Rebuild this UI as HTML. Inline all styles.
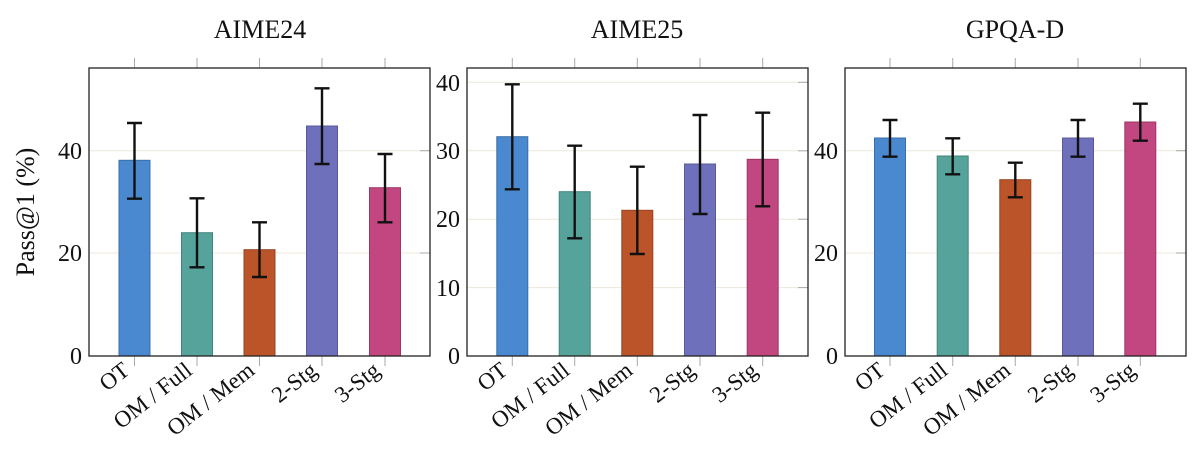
<!DOCTYPE html>
<html><head><meta charset="utf-8"><style>
html,body{margin:0;padding:0;background:#fff;}
svg{display:block;font-family:"Liberation Serif",serif;}
</style></head><body>
<svg width="1200" height="454" viewBox="0 0 1200 454" xmlns="http://www.w3.org/2000/svg">
<g font-size="26" text-anchor="middle" fill="#111">
<text x="260" y="38">AIME24</text>
<text x="637" y="38">AIME25</text>
<text x="1015" y="38">GPQA-D</text>
</g>
<text transform="translate(34,212) rotate(-90)" font-size="26" text-anchor="middle" fill="#111">Pass@1 (%)</text>

<g stroke="#ece8d8" stroke-width="1">
<line x1="89" x2="430" y1="253" y2="253"/><line x1="89" x2="430" y1="150.7" y2="150.7"/>
<line x1="467" x2="808" y1="287.6" y2="287.6"/><line x1="467" x2="808" y1="219.2" y2="219.2"/><line x1="467" x2="808" y1="150.8" y2="150.8"/><line x1="467" x2="808" y1="82.3" y2="82.3"/>
<line x1="845" x2="1186" y1="253" y2="253"/><line x1="845" x2="1186" y1="150.7" y2="150.7"/>
</g>
<g stroke="#aaa" stroke-width="1">
<line x1="134.5" x2="134.5" y1="58" y2="68"/><line x1="197" x2="197" y1="58" y2="68"/><line x1="259.5" x2="259.5" y1="58" y2="68"/><line x1="322" x2="322" y1="58" y2="68"/><line x1="385" x2="385" y1="58" y2="68"/>
<line x1="134.5" x2="134.5" y1="356" y2="366"/><line x1="197" x2="197" y1="356" y2="366"/><line x1="259.5" x2="259.5" y1="356" y2="366"/><line x1="322" x2="322" y1="356" y2="366"/><line x1="385" x2="385" y1="356" y2="366"/>
<line x1="512.3" x2="512.3" y1="58" y2="68"/><line x1="574.7" x2="574.7" y1="58" y2="68"/><line x1="637.3" x2="637.3" y1="58" y2="68"/><line x1="700" x2="700" y1="58" y2="68"/><line x1="762.7" x2="762.7" y1="58" y2="68"/>
<line x1="512.3" x2="512.3" y1="356" y2="366"/><line x1="574.7" x2="574.7" y1="356" y2="366"/><line x1="637.3" x2="637.3" y1="356" y2="366"/><line x1="700" x2="700" y1="356" y2="366"/><line x1="762.7" x2="762.7" y1="356" y2="366"/>
<line x1="890" x2="890" y1="58" y2="68"/><line x1="952.7" x2="952.7" y1="58" y2="68"/><line x1="1015.3" x2="1015.3" y1="58" y2="68"/><line x1="1078" x2="1078" y1="58" y2="68"/><line x1="1140.3" x2="1140.3" y1="58" y2="68"/>
<line x1="890" x2="890" y1="356" y2="366"/><line x1="952.7" x2="952.7" y1="356" y2="366"/><line x1="1015.3" x2="1015.3" y1="356" y2="366"/><line x1="1078" x2="1078" y1="356" y2="366"/><line x1="1140.3" x2="1140.3" y1="356" y2="366"/>
<line x1="420" x2="430" y1="253" y2="253"/><line x1="420" x2="430" y1="150.7" y2="150.7"/>
<line x1="798" x2="808" y1="287.6" y2="287.6"/><line x1="798" x2="808" y1="219.2" y2="219.2"/><line x1="798" x2="808" y1="150.8" y2="150.8"/><line x1="798" x2="808" y1="82.3" y2="82.3"/>
<line x1="1176" x2="1186" y1="253" y2="253"/><line x1="1176" x2="1186" y1="150.7" y2="150.7"/>
</g>

<g stroke-width="1">
<rect x="119" y="160.3" width="31" height="195.7" fill="#4a88cf" stroke="#3a6fa8"/>
<rect x="181.5" y="232.7" width="31" height="123.3" fill="#55a39a" stroke="#43837b"/>
<rect x="244" y="249.7" width="31" height="106.3" fill="#bb5529" stroke="#964421"/>
<rect x="306.5" y="126" width="31" height="230" fill="#6f70bb" stroke="#585a99"/>
<rect x="369.5" y="187.7" width="31" height="168.3" fill="#c2467f" stroke="#9c3866"/>

<rect x="496.8" y="136.7" width="31" height="219.3" fill="#4a88cf" stroke="#3a6fa8"/>
<rect x="559.2" y="191.7" width="31" height="164.3" fill="#55a39a" stroke="#43837b"/>
<rect x="621.8" y="210.3" width="31" height="145.7" fill="#bb5529" stroke="#964421"/>
<rect x="684.5" y="164" width="31" height="192" fill="#6f70bb" stroke="#585a99"/>
<rect x="747.2" y="159.3" width="31" height="196.7" fill="#c2467f" stroke="#9c3866"/>

<rect x="874.5" y="138" width="31" height="218" fill="#4a88cf" stroke="#3a6fa8"/>
<rect x="937.2" y="156" width="31" height="200" fill="#55a39a" stroke="#43837b"/>
<rect x="999.8" y="179.7" width="31" height="176.3" fill="#bb5529" stroke="#964421"/>
<rect x="1062.5" y="138" width="31" height="218" fill="#6f70bb" stroke="#585a99"/>
<rect x="1124.8" y="122" width="31" height="234" fill="#c2467f" stroke="#9c3866"/>
</g>

<g stroke="#111" stroke-width="2.4" fill="none">
<path d="M134.5 123V198.7M127 123H142M127 198.7H142"/>
<path d="M197 198.3V267.3M189.5 198.3H204.5M189.5 267.3H204.5"/>
<path d="M259.5 222.3V277M252 222.3H267M252 277H267"/>
<path d="M322 88.3V164M314.5 88.3H329.5M314.5 164H329.5"/>
<path d="M385 154V222.3M377.5 154H392.5M377.5 222.3H392.5"/>

<path d="M512.3 84.3V189.3M504.8 84.3H519.8M504.8 189.3H519.8"/>
<path d="M574.7 145.7V238.3M567.2 145.7H582.2M567.2 238.3H582.2"/>
<path d="M637.3 166.7V254M629.8 166.7H644.8M629.8 254H644.8"/>
<path d="M700 115V214M692.5 115H707.5M692.5 214H707.5"/>
<path d="M762.7 112.7V206.3M755.2 112.7H770.2M755.2 206.3H770.2"/>

<path d="M890 120V156.7M882.5 120H897.5M882.5 156.7H897.5"/>
<path d="M952.7 138.3V174.3M945.2 138.3H960.2M945.2 174.3H960.2"/>
<path d="M1015.3 162.7V197.3M1007.8 162.7H1022.8M1007.8 197.3H1022.8"/>
<path d="M1078 120V156.7M1070.5 120H1085.5M1070.5 156.7H1085.5"/>
<path d="M1140.3 103.7V140.7M1132.8 103.7H1147.8M1132.8 140.7H1147.8"/>
</g>

<g stroke="#222" stroke-width="1.3" fill="none">
<rect x="89" y="68" width="341" height="288"/>
<rect x="467" y="68" width="341" height="288"/>
<rect x="845" y="68" width="341" height="288"/>
</g>

<g font-size="24" text-anchor="end" fill="#111">
<text x="82" y="364">0</text><text x="82" y="261">20</text><text x="82" y="159">40</text>
<text x="460" y="364">0</text><text x="460" y="296">10</text><text x="460" y="227">20</text><text x="460" y="159">30</text><text x="460" y="91">40</text>
<text x="838" y="364">0</text><text x="838" y="261">20</text><text x="838" y="159">40</text>
</g>

<g font-size="23" text-anchor="end" fill="#111">
<text transform="translate(131,373) rotate(-38)">OT</text>
<text transform="translate(193.5,373) rotate(-38)">OM / Full</text>
<text transform="translate(256,373) rotate(-38)">OM / Mem</text>
<text transform="translate(318.5,373) rotate(-38)">2-Stg</text>
<text transform="translate(381.5,373) rotate(-38)">3-Stg</text>

<text transform="translate(509,373) rotate(-38)">OT</text>
<text transform="translate(571,373) rotate(-38)">OM / Full</text>
<text transform="translate(634,373) rotate(-38)">OM / Mem</text>
<text transform="translate(696.5,373) rotate(-38)">2-Stg</text>
<text transform="translate(759,373) rotate(-38)">3-Stg</text>

<text transform="translate(886.5,373) rotate(-38)">OT</text>
<text transform="translate(949,373) rotate(-38)">OM / Full</text>
<text transform="translate(1012,373) rotate(-38)">OM / Mem</text>
<text transform="translate(1074.5,373) rotate(-38)">2-Stg</text>
<text transform="translate(1137,373) rotate(-38)">3-Stg</text>
</g>
</svg>
</body></html>
